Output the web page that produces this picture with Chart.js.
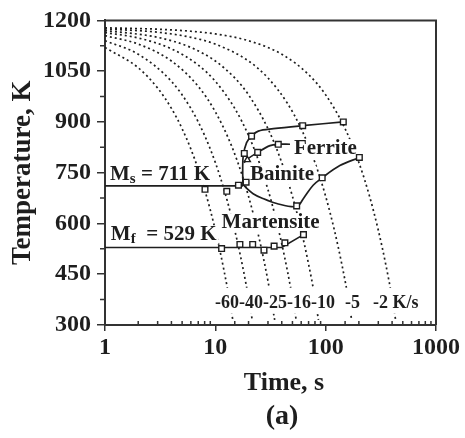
<!DOCTYPE html>
<html>
<head>
<meta charset="utf-8">
<script src="https://cdn.jsdelivr.net/npm/chart.js@4.4.1/dist/chart.umd.min.js"></script>
<style>
  body { margin: 0; background: #fff; }
  #wrap { width: 465px; height: 438px; }
</style>
</head>
<body>
<div id="wrap"><canvas id="cct"></canvas></div>
<script>
// cooling rates (K/s), one dotted curve each
const rateLabels = ['-60', '-40', '-25', '-16', '-10', '-5', '-2'];
// cooling curves: time (s) / temperature (K)
const coolTimes = [
  [1, 2, 3, 4, 5, 6, 7, 8, 9, 10, 11, 12, 13, 14.4],
  [1, 2, 4, 6, 8, 10, 12, 14, 16, 18, 20, 21.6],
  [1, 2, 4, 7, 10, 14, 18, 22, 26, 30, 34.5],
  [1, 2, 4, 7, 10, 15, 20, 25, 30, 35, 40, 45, 50, 54],
  [1, 3, 6, 10, 15, 20, 30, 40, 50, 60, 70, 80, 86],
  [1, 3, 6, 10, 20, 30, 45, 60, 80, 100, 120, 140, 160, 172],
  [1, 3, 6, 10, 20, 40, 70, 100, 150, 200, 250, 300, 350, 400, 430]
];
const coolTemps = [
  [1120, 1060, 1000, 940, 880, 820, 760, 700, 640, 580, 520, 460, 400, 315],
  [1140, 1100, 1020, 940, 860, 780, 700, 620, 540, 460, 380, 315],
  [1155, 1130, 1080, 1005, 930, 830, 730, 630, 530, 430, 315],
  [1164, 1148, 1116, 1068, 1020, 940, 860, 780, 700, 620, 540, 460, 380, 316],
  [1170, 1150, 1120, 1080, 1030, 980, 880, 780, 680, 580, 480, 380, 315],
  [1175, 1165, 1150, 1130, 1080, 1030, 955, 880, 780, 680, 580, 480, 380, 315],
  [1178, 1174, 1168, 1160, 1140, 1100, 1040, 980, 880, 780, 680, 580, 480, 380, 316]
];

// Ms and Mf lines
const msTimes = [1, 17.8];
const msTemps = [711, 711];
const mfTimes = [1, 39.9, 63];
const mfTemps = [529, 529, 567];

// ferrite start (outer curve)
const ferriteTimes = [17.8, 17.7, 17.9, 19.2, 21.3, 24.5, 33.6, 61.9, 144.5];
const ferriteTemps = [711, 761, 800, 839, 858, 873, 880, 889, 900];
// inner curve ending at the "Ferrite" label
const innerTimes = [18.2, 19.5, 24.2, 31.3, 37.2, 47.5];
const innerTemps = [780, 790, 810, 830, 834, 834];
// bainite curve
const bainiteTimes = [17.8, 19.5, 22, 26, 36, 54.7, 62.9, 77, 93, 134.5, 202];
const bainiteTemps = [716, 702, 688, 676, 659, 650, 674, 713, 735, 771, 795];

// measured points (open squares)
const markTimes = [8.06, 12.7, 16.2, 19, 21.3, 61.9, 144.5, 18.3, 24.2, 37.2,
  54.6, 93, 202, 11.4, 16.7, 21.8, 27.6, 34.1, 42.7, 62.9];
const markTemps = [701, 695, 713, 722, 858, 889, 900, 807, 810, 834,
  652, 735, 795, 526, 538, 538, 521, 533, 543, 567];
const triTimes = [19.5];
const triTemps = [788];

const timeMajorTicks = [1, 10, 100, 1000];

// text annotations, placed in data units (time, temperature)
const notes = [
  { text: 'M', sub: 's', rest: ' = 711 K', t: 1.11, T: 728, size: 21 },
  { text: 'M', sub: 'f', rest: '  = 529 K', t: 1.13, T: 550, size: 21 },
  { text: 'Martensite', t: 11.4, T: 586, size: 21 },
  { text: 'Bainite', t: 20.6, T: 727, size: 21 },
  { text: 'Ferrite', t: 51.6, T: 805, size: 21 },
  { text: '-60-40-25-16-10', t: 9.93, T: 351, size: 18, padTop: 20, padBottom: 6 },
  { text: '-5', t: 149.7, T: 351, size: 18, padTop: 20, padBottom: 6 },
  { text: '-2 K/s', t: 268.5, T: 351, size: 18, padTop: 20, padBottom: 6 }
];

const FONT = "'Liberation Serif', 'Times New Roman', serif";
const INK = '#1e1e1e';

function pts(xs, ys) {
  return xs.map((v, i) => ({ x: v, y: ys[i] }));
}

const datasets = [];
datasets.push({
  data: pts(markTimes, markTemps), showLine: false, pointStyle: 'rect',
  pointRadius: 4, pointBorderWidth: 1.4, pointBorderColor: INK, pointBackgroundColor: '#fff'
});
datasets.push({
  data: pts(triTimes, triTemps), showLine: false, pointStyle: 'triangle',
  pointRadius: 3.5, pointBorderWidth: 1.4, pointBorderColor: INK, pointBackgroundColor: '#fff'
});
[[msTimes, msTemps, 0], [mfTimes, mfTemps, 0], [ferriteTimes, ferriteTemps, 0.35],
 [innerTimes, innerTemps, 0.35], [bainiteTimes, bainiteTemps, 0.35]].forEach(([xs, ys, ten]) => {
  datasets.push({
    layer: 'solid', data: pts(xs, ys), borderColor: INK, borderWidth: 1.7,
    pointRadius: 0, tension: ten, fill: false
  });
});
rateLabels.forEach((r, i) => {
  datasets.push({
    label: r + ' K/s', data: pts(coolTimes[i], coolTemps[i]), borderColor: INK,
    borderWidth: 1.7, borderDash: [2, 3], pointRadius: 0,
    cubicInterpolationMode: 'monotone', fill: false
  });
});

function drawNotes(chart) {
  const { ctx, scales: { x, y } } = chart;
  ctx.save();
  notes.forEach(n => {
    const px = x.getPixelForValue(n.t);
    const py = y.getPixelForValue(n.T);
    const big = 'bold ' + n.size + 'px ' + FONT;
    const small = 'bold ' + Math.round(n.size * 0.7) + 'px ' + FONT;
    ctx.font = big;
    let w = ctx.measureText(n.text).width;
    let wSub = 0, wRest = 0;
    if (n.sub) {
      ctx.font = small; wSub = ctx.measureText(n.sub).width;
      ctx.font = big; wRest = ctx.measureText(n.rest).width;
    }
    const top = n.padTop || Math.round(n.size * 0.72);
    const bot = n.padBottom || 4;
    ctx.fillStyle = '#fff';
    ctx.fillRect(px - 2, py - top, w + wSub + wRest + 4, top + bot);
    ctx.fillStyle = INK;
    ctx.textBaseline = 'alphabetic';
    ctx.textAlign = 'left';
    ctx.font = big;
    ctx.fillText(n.text, px, py);
    if (n.sub) {
      ctx.font = small;
      ctx.fillText(n.sub, px + w, py + 3);
      ctx.font = big;
      ctx.fillText(n.rest, px + w + wSub, py);
    }
  });
  ctx.restore();
}

let notesDrawn = false;
const decor = {
  id: 'decor',
  beforeDatasetsDraw() { notesDrawn = false; },
  beforeDatasetDraw(chart, args) {
    if (!notesDrawn && chart.data.datasets[args.index].layer === 'solid') {
      drawNotes(chart);
      notesDrawn = true;
    }
  },
  afterDraw(chart) {
    const { ctx, chartArea: a, scales: { x, y } } = chart;
    ctx.save();
    ctx.strokeStyle = '#333';
    // frame on top and right
    ctx.lineWidth = 2;
    ctx.beginPath();
    ctx.moveTo(a.left, a.top);
    ctx.lineTo(a.right, a.top);
    ctx.lineTo(a.right, a.bottom);
    ctx.stroke();
    // minor time ticks, pointing inside
    ctx.lineWidth = 1.5;
    ctx.beginPath();
    x.ticks.forEach(t => {
      if (timeMajorTicks.includes(t.value)) return;
      const px = x.getPixelForValue(t.value);
      ctx.moveTo(px, a.bottom);
      ctx.lineTo(px, a.bottom - 4);
    });
    // minor temperature ticks, pointing outside
    for (let i = 0; i < y.ticks.length - 1; i++) {
      const v = (y.ticks[i].value + y.ticks[i + 1].value) / 2;
      const py = y.getPixelForValue(v);
      ctx.moveTo(a.left, py);
      ctx.lineTo(a.left - 5, py);
    }
    ctx.stroke();
    // x title and panel tag
    ctx.fillStyle = INK;
    ctx.textAlign = 'center';
    ctx.textBaseline = 'middle';
    ctx.font = 'bold 26px ' + FONT;
    ctx.fillText('Time, s', 284, 383);
    ctx.font = 'bold 28px ' + FONT;
    ctx.fillText('(a)', 282, 417);
    ctx.restore();
  }
};

new Chart(document.getElementById('cct'), {
  type: 'line',
  data: { datasets: datasets },
  plugins: [decor],
  options: {
    responsive: true,
    maintainAspectRatio: false,
    animation: false,
    layout: { padding: { top: 16, right: 29, left: 0, bottom: 0 } },
    plugins: { legend: { display: false }, tooltip: { enabled: false } },
    scales: {
      x: {
        type: 'logarithmic',
        min: 1,
        max: 1000,
        afterFit: s => { s.height = 113; },
        border: { display: true, color: '#333', width: 2 },
        grid: {
          drawOnChartArea: false,
          drawTicks: true,
          tickLength: 6,
          lineWidth: 1.5,
          color: c => (c.tick && timeMajorTicks.includes(c.tick.value)) ? '#333' : 'rgba(0,0,0,0)'
        },
        ticks: {
          autoSkip: false,
          maxRotation: 0,
          padding: 2,
          color: INK,
          font: { family: FONT, size: 24, weight: 'bold' },
          callback: v => timeMajorTicks.includes(v) ? String(v) : ''
        }
      },
      y: {
        min: 300,
        max: 1200,
        afterFit: s => { s.width = 105; },
        border: { display: true, color: '#333', width: 2 },
        grid: { drawOnChartArea: false, drawTicks: true, tickLength: 8, lineWidth: 1.5, color: '#333' },
        ticks: {
          stepSize: 150,
          padding: 6,
          color: INK,
          font: { family: FONT, size: 24, weight: 'bold' },
          callback: v => String(v)
        },
        title: {
          display: true,
          text: 'Temperature, K',
          color: INK,
          font: { family: FONT, size: 27, weight: 'bold', lineHeight: 1 },
          padding: { top: 10, bottom: 0 }
        }
      }
    }
  }
});
</script>
</body>
</html>
